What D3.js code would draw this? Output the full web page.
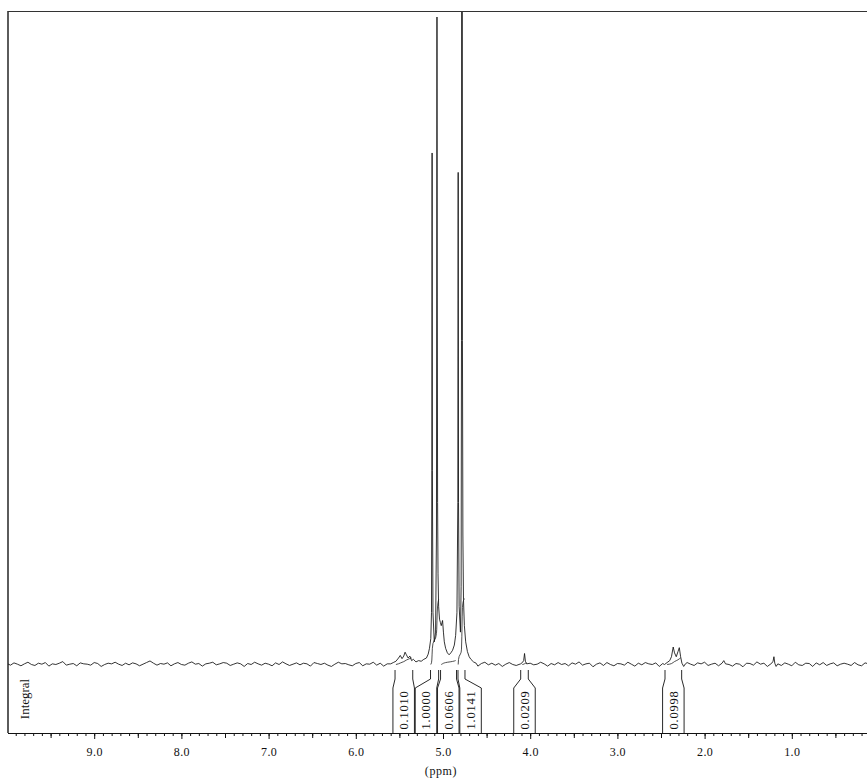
<!DOCTYPE html>
<html><head><meta charset="utf-8">
<script src="https://cdn.jsdelivr.net/npm/d3@7/dist/d3.min.js"></script>
<style>html,body{margin:0;padding:0;background:#fff;} svg{display:block;}</style>
</head><body><svg id="chart" width="867" height="778"></svg>
<script>
// ---------- DATA ----------
// baseline noise sampled every 0.04 ppm from 10.00 down to 0.00 (intensity, % of full scale)
const noiseStart = 10.0, noiseStep = 0.04;
const baselineNoise = [
 0.15,-0.1,0.25,0.05,-0.2,0.1,0.35,0.0,-0.15,0.2,0.05,0.3,-0.25,0.1,0.0,0.2,0.45,-0.1,0.05,0.15,
 -0.2,0.25,0.1,0.05,-0.1,0.3,0.15,-0.3,0.0,0.2,0.1,0.35,0.05,-0.15,0.2,-0.05,0.25,0.1,-0.2,0.05,
 0.3,0.55,0.2,-0.1,0.15,0.05,0.25,-0.2,0.1,0.3,0.0,-0.1,0.2,0.4,0.05,0.15,-0.25,0.1,0.2,0.35,
 -0.05,0.1,0.3,0.2,-0.15,0.05,0.25,0.1,-0.3,0.15,0.0,0.35,0.1,-0.1,0.2,0.05,-0.2,0.25,0.0,0.4,
 0.1,-0.15,0.05,0.25,-0.05,0.2,0.1,-0.25,0.3,0.15,0.0,0.2,-0.1,-0.3,0.05,0.35,0.1,0.15,-0.05,-0.2,
 0.15,0.3,-0.2,0.1,0.05,0.35,-0.1,0.2,-0.25,0.1,0.45,0.15,-0.15,0.0,0.3,0.05,-0.1,0.25,-0.3,0.1,
 0.2,0.05,-0.05,0.3,0.15,-0.2,0.1,-0.1,0.25,-0.15,0.05,0.3,0.0,0.2,-0.1,-0.25,0.15,0.35,-0.05,0.2,
 -0.1,0.15,-0.3,0.05,0.3,0.0,-0.15,0.25,-0.2,0.1,0.2,-0.05,0.05,0.35,0.1,-0.25,0.15,-0.05,0.3,0.0,
 0.15,-0.2,0.25,0.05,0.4,-0.1,0.1,0.2,-0.35,0.05,0.25,-0.15,0.3,0.0,-0.2,0.15,0.1,-0.1,0.35,0.05,
 -0.25,0.2,-0.05,0.3,0.1,0.0,0.25,-0.3,0.15,-0.05,0.35,0.0,0.2,0.1,-0.2,0.3,0.05,-0.15,0.25,0.1,
 0.35,-0.15,0.05,0.2,-0.2,0.1,0.3,0.0,-0.25,0.15,0.05,-0.35,0.2,0.15,-0.1,0.4,0.05,0.2,-0.3,0.0,
 0.1,0.3,-0.15,0.25,0.05,-0.2,0.35,-0.05,-0.15,0.2,0.15,-0.3,0.25,-0.05,0.3,-0.15,0.1,0.25,-0.2,0.05,
 0.2,0.05,-0.15,0.3,-0.05,-0.2,0.25,0.1,-0.1,0.3,0.05
];
// signal regions [ppm, intensity %]
const mainCluster = [
 [5.60,0.1],[5.57,0.3],[5.54,0.5],[5.51,1.0],[5.49,1.4],[5.47,0.9],[5.45,1.3],[5.435,1.9],
 [5.42,1.5],[5.40,1.0],[5.38,1.3],[5.36,0.6],[5.34,0.8],[5.31,0.4],[5.28,0.6],[5.25,0.5],
 [5.22,0.8],[5.19,1.0],[5.17,1.6],[5.155,2.5],[5.14,4],[5.132,8],[5.128,30],[5.125,79],
 [5.122,30],[5.115,8],[5.10,3.5],[5.085,5],[5.075,20],[5.072,60],[5.069,100],[5.066,60],
 [5.062,25],[5.057,14],[5.05,9],[5.04,7],
 [5.03,6.5],[5.02,6],[5.005,6.8],[4.995,5],[4.985,3.5],[4.97,2.5],[4.95,1.8],[4.93,1.5],
 [4.91,1.8],[4.89,2.2],[4.87,3],[4.855,4.5],[4.84,8],[4.83,25],[4.826,76],[4.822,25],
 [4.815,9],[4.80,5],[4.792,12],[4.788,50],[4.784,200],[4.78,200],[4.777,50],[4.772,20],
 [4.765,10],[4.755,6],[4.74,3.5],[4.72,2],
 [4.70,1.2],[4.68,0.8],[4.65,0.4],[4.62,0.2]
];
const peak4p06 = [[4.11,0.1],[4.09,0.3],[4.075,0.6],[4.065,1.7],[4.055,0.5],[4.04,0.1]];
const peak2p3 = [[2.46,0.0],[2.43,0.3],[2.40,0.6],[2.38,1.2],[2.36,2.7],[2.345,1.8],[2.325,1.2],
 [2.305,2.0],[2.29,2.6],[2.275,1.2],[2.26,0.2],[2.24,-0.3],[2.22,0.1]];
const peak1p78 = [[1.80,0.2],[1.78,0.6],[1.76,0.1]];
const peak1p2 = [[1.23,0.2],[1.215,0.5],[1.205,1.2],[1.195,0.2],[1.18,-0.3],[1.16,0.1]];
const peakSegments = [mainCluster, peak4p06, peak2p3, peak1p78, peak1p2];

// integrals
const integralLabels = ["0.1010","1.0000","0.0606","1.0141","0.0209","0.0998"];
const integralValues = [0.1010, 1.0000, 0.0606, 1.0141, 0.0209, 0.0998];
const integralFrom   = [5.55, 5.143, 5.028, 4.828, 4.109, 2.454];
const integralTo     = [5.347, 5.05, 4.845, 4.748, 4.022, 2.263];

const majorTicks = [9,8,7,6,5,4,3,2,1];
const axisTitle = "(ppm)";
const sideLabel = "Integral";

// ---------- LAYOUT ----------
const W = 867, H = 778;
const plotLeft = 8, plotTop = 12, axisY = 733, baseY = 664.5;
const svg = d3.select("#chart");
const serif = "'Liberation Serif','Times New Roman',serif";

const x = d3.scaleLinear().domain([10, 0]).range([7, 879]);
const y = d3.scaleLinear().domain([0, 100]).range([baseY, 17]);
const integralScale = d3.scaleLinear().domain([0, 1]).range([0, 65]);

// build spectrum
const gridPts = baselineNoise.map((v, i) => [+(noiseStart - i * noiseStep).toFixed(3), v]);
const ranges = peakSegments.map(s => [d3.min(s, d => d[0]), d3.max(s, d => d[0])]);
const kept = gridPts.filter(p => !ranges.some(r => p[0] >= r[0] - 0.01 && p[0] <= r[1] + 0.01));
const spectrum = kept.concat(...peakSegments).sort((a, b) => b[0] - a[0]);

svg.append("defs").append("clipPath").attr("id", "plotclip")
  .append("rect").attr("x", plotLeft).attr("y", plotTop).attr("width", W - plotLeft).attr("height", axisY - plotTop);

// frame
svg.append("line").attr("x1", plotLeft).attr("x2", W).attr("y1", plotTop - 0.5).attr("y2", plotTop - 0.5)
  .attr("stroke", "#333").attr("stroke-width", 1.2);
svg.append("line").attr("x1", plotLeft).attr("x2", plotLeft).attr("y1", plotTop - 1).attr("y2", axisY)
  .attr("stroke", "#333").attr("stroke-width", 1.6);

const plot = svg.append("g").attr("clip-path", "url(#plotclip)");

const line = d3.line().x(d => x(d[0])).y(d => y(d[1]));
plot.append("path").datum(spectrum).attr("d", line)
  .attr("fill", "none").attr("stroke", "#111").attr("stroke-width", 0.85).attr("stroke-linejoin", "round");

// integral traces
integralLabels.forEach((lab, i) => {
  const pts = spectrum.filter(p => p[0] <= integralFrom[i] && p[0] >= integralTo[i]);
  let cum = 0; const cs = [0];
  for (let k = 1; k < pts.length; k++) {
    const a = Math.max(pts[k - 1][1], 0), b = Math.max(pts[k][1], 0);
    cum += (a + b) / 2 * (pts[k - 1][0] - pts[k][0]);
    cs.push(cum);
  }
  const rise = integralScale(integralValues[i]);
  const tr = pts.map((p, k) => [x(p[0]), y(0) - (cum > 0 ? cs[k] / cum : 0) * rise]);
  plot.append("path").attr("d", d3.line()(tr)).attr("fill", "none")
    .attr("stroke", "#222").attr("stroke-width", 0.8);
});

// integral brackets with label layout
const boxW = 21.5, sep = 22.3;
const items = integralLabels.map((lab, i) => ({
  i, lab, a: x(integralFrom[i]), b: x(integralTo[i]),
  c: (x(integralFrom[i]) + x(integralTo[i])) / 2
})).sort((p, q) => p.c - q.c);
let blocks = [];
const firstPos = bl => d3.mean(bl.items.map((d, k) => d.c - k * sep));
items.forEach(it => {
  blocks.push({ items: [it] });
  while (blocks.length > 1) {
    const b = blocks[blocks.length - 1], a = blocks[blocks.length - 2];
    const aLast = firstPos(a) + (a.items.length - 1) * sep;
    if (aLast + sep > firstPos(b)) {
      blocks.splice(blocks.length - 2, 2, { items: a.items.concat(b.items) });
    } else break;
  }
});
blocks.forEach(bl => {
  const f = firstPos(bl);
  bl.items.forEach((d, k) => d.pos = f + k * sep);
});
const stubTop = 670, stubBot = 679, boxTop = 688;
const br = svg.append("g");
items.forEach(d => {
  const L = d.pos - boxW / 2, R = d.pos + boxW / 2;
  br.append("path").attr("d", `M${d.a},${stubTop}V${stubBot}L${L},${boxTop}V${axisY}`)
    .attr("fill", "none").attr("stroke", "#111").attr("stroke-width", 0.9);
  br.append("path").attr("d", `M${d.b},${stubTop}V${stubBot}L${R},${boxTop}V${axisY}`)
    .attr("fill", "none").attr("stroke", "#111").attr("stroke-width", 0.9);
  br.append("text").attr("transform", `translate(${d.pos + 0.5},${710}) rotate(-90)`)
    .attr("text-anchor", "middle").attr("dominant-baseline", "central")
    .attr("font-family", serif).attr("font-size", 12.5).attr("letter-spacing", 0.8)
    .attr("fill", "#111").text(d.lab);
});

// side label
svg.append("text").attr("transform", `translate(24,699) rotate(-90)`)
  .attr("text-anchor", "middle").attr("dominant-baseline", "central")
  .attr("font-family", serif).attr("font-size", 13).attr("fill", "#111").text(sideLabel);

// axis
const axG = svg.append("g").attr("transform", `translate(0,${axisY})`);
const minorVals = d3.range(1, 100).map(v => v / 10);
const halfVals = d3.range(0.5, 10, 1);
axG.append("g").call(d3.axisBottom(x).tickValues(minorVals).tickSize(3).tickFormat(""))
  .call(g => g.select(".domain").remove());
axG.append("g").call(d3.axisBottom(x).tickValues(halfVals).tickSize(5).tickFormat(""))
  .call(g => g.select(".domain").remove());
axG.append("g").call(d3.axisBottom(x).tickValues(majorTicks).tickSize(6).tickPadding(8)
  .tickFormat(d3.format(".1f")))
  .call(g => g.select(".domain").remove())
  .call(g => g.selectAll("text").attr("font-family", serif).attr("font-size", 12).attr("letter-spacing", 0.4).attr("fill", "#111"));
axG.selectAll(".tick line").attr("stroke", "#111");
axG.append("line").attr("x1", plotLeft).attr("x2", W).attr("y1", 0.5).attr("y2", 0.5)
  .attr("stroke", "#111").attr("stroke-width", 1.2);

svg.append("text").attr("x", x(5) - 2).attr("y", 775).attr("text-anchor", "middle")
  .attr("font-family", serif).attr("font-size", 12).attr("letter-spacing", 0.6)
  .attr("fill", "#111").text(axisTitle);
</script></body></html>
